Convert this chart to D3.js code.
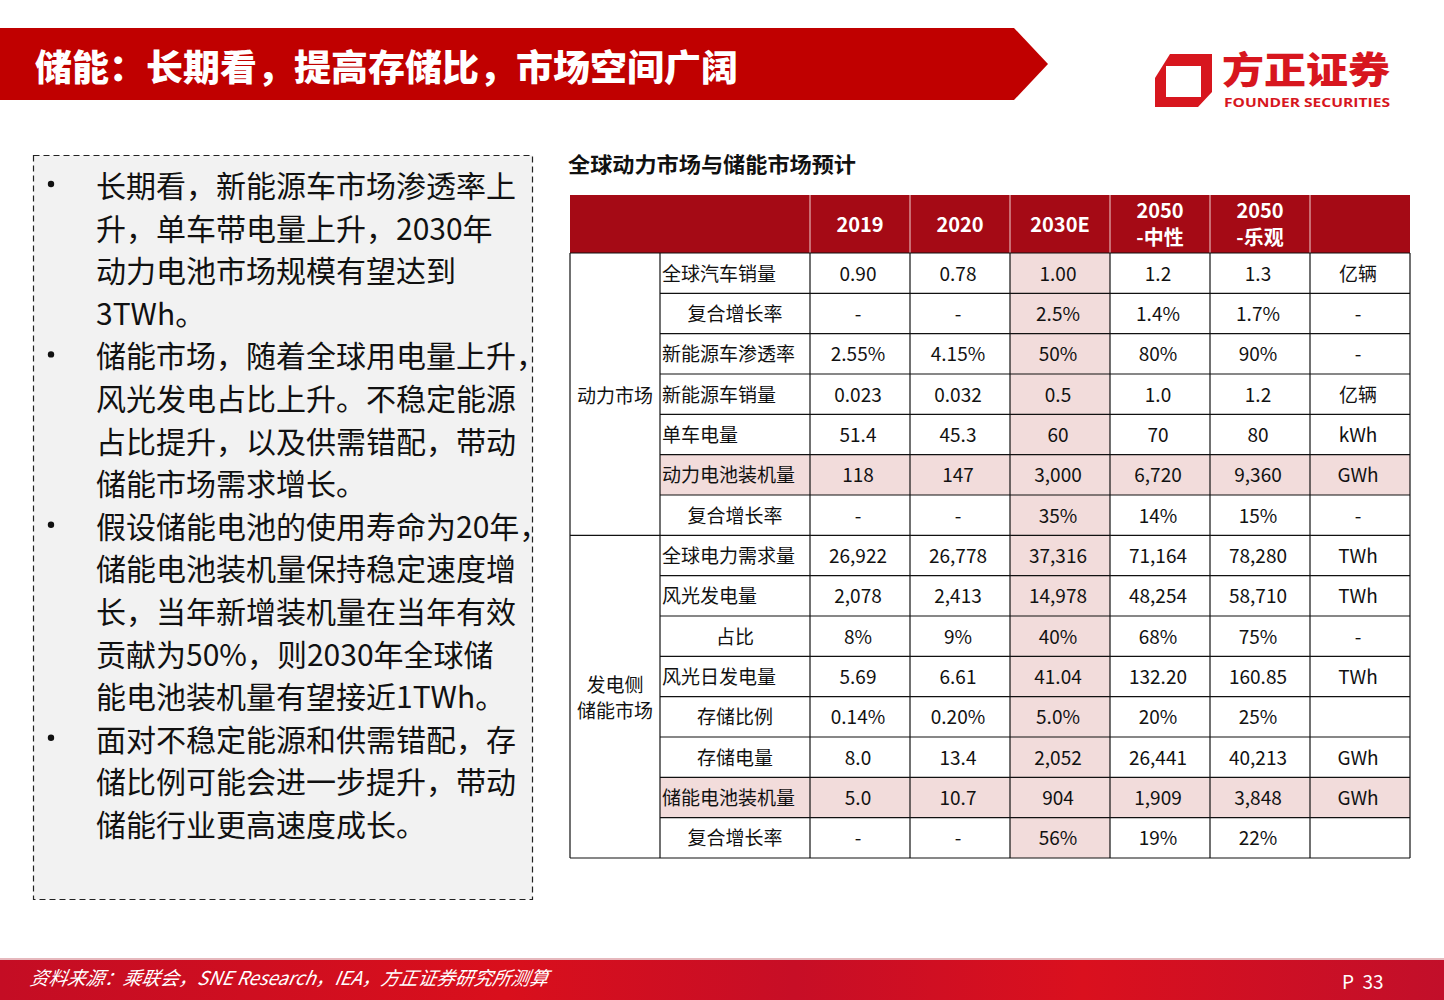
<!DOCTYPE html>
<html><head><meta charset="utf-8">
<script src="https://cdn.jsdelivr.net/npm/d3@7"></script>
<style>
html,body{margin:0;padding:0;background:#fff;}
svg{display:block;font-family:"Noto Sans CJK SC","Noto Sans",sans-serif;}
</style></head>
<body>
<svg id="c" width="1444" height="1000"></svg>
<script>
// ---------- data ----------
const title = "储能：长期看，提高存储比，市场空间广阔";
const tableTitle = "全球动力市场与储能市场预计";
const columns = ["2019", "2020", "2030E", "2050\n-中性", "2050\n-乐观", ""];
const groups = [{name: "动力市场", start: 0, end: 6}, {name: "发电侧\n储能市场", start: 7, end: 14}];
const rowLabels = ["全球汽车销量","复合增长率","新能源车渗透率","新能源车销量","单车电量","动力电池装机量","复合增长率",
                   "全球电力需求量","风光发电量","占比","风光日发电量","存储比例","存储电量","储能电池装机量","复合增长率"];
const labelCentered = [false,true,false,false,false,false,true,false,false,true,false,true,true,false,true];
const v2019  = ["0.90","-","2.55%","0.023","51.4","118","-","26,922","2,078","8%","5.69","0.14%","8.0","5.0","-"];
const v2020  = ["0.78","-","4.15%","0.032","45.3","147","-","26,778","2,413","9%","6.61","0.20%","13.4","10.7","-"];
const v2030E = ["1.00","2.5%","50%","0.5","60","3,000","35%","37,316","14,978","40%","41.04","5.0%","2,052","904","56%"];
const v2050N = ["1.2","1.4%","80%","1.0","70","6,720","14%","71,164","48,254","68%","132.20","20%","26,441","1,909","19%"];
const v2050O = ["1.3","1.7%","90%","1.2","80","9,360","15%","78,280","58,710","75%","160.85","25%","40,213","3,848","22%"];
const units  = ["亿辆","-","-","亿辆","kWh","GWh","-","TWh","TWh","-","TWh","","GWh","GWh",""];
const highlightRows = [5, 13];
const highlightCol = "2030E";
const bullets = [
  ["长期看，新能源车市场渗透率上","升，单车带电量上升，2030年","动力电池市场规模有望达到","3TWh。"],
  ["储能市场，随着全球用电量上升，","风光发电占比上升。不稳定能源","占比提升，以及供需错配，带动","储能市场需求增长。"],
  ["假设储能电池的使用寿命为20年，","储能电池装机量保持稳定速度增","长，当年新增装机量在当年有效","贡献为50%，则2030年全球储","能电池装机量有望接近1TWh。"],
  ["面对不稳定能源和供需错配，存","储比例可能会进一步提升，带动","储能行业更高速度成长。"]
];
const source = "资料来源：乘联会，SNE Research，IEA，方正证券研究所测算";
const pageNo = "P  33";

// ---------- drawing ----------
const svg = d3.select("#c");
const defs = svg.append("defs");
const RED = "#c00000";

// header banner
svg.append("path")
  .attr("d", "M0,28 L1014,28 L1048,64 L1014,100 L0,100 Z")
  .attr("fill", RED);
svg.append("text").text(title)
  .attr("x", 35).attr("y", 81)
  .attr("font-size", 36).attr("font-weight", 900).attr("fill", "#fff")
  .attr("textLength", 703).attr("lengthAdjust", "spacingAndGlyphs");

// logo
const LR = "#d7161e";
const logo = svg.append("g");
logo.append("path")
  .attr("d", "M1155,78 L1170,54 L1212,54 L1212,92 L1198,107 L1155,107 Z M1166,66 L1166,97 L1201,97 L1201,66 Z")
  .attr("fill", LR).attr("fill-rule", "evenodd");
logo.append("text").text("方正证券")
  .attr("x", 1222).attr("y", 84).attr("font-size", 37).attr("font-weight", 900).attr("fill", LR)
  .attr("textLength", 168).attr("lengthAdjust", "spacingAndGlyphs");
logo.append("text").text("FOUNDER SECURITIES")
  .attr("x", 1224).attr("y", 107).attr("font-size", 12.5).attr("font-weight", 700).attr("fill", LR)
  .attr("font-family", "'Open Sans','DejaVu Sans',sans-serif")
  .attr("textLength", 166).attr("lengthAdjust", "spacingAndGlyphs");

// left text box
svg.append("rect").attr("x", 33.5).attr("y", 155.5).attr("width", 499).attr("height", 744)
  .attr("fill", "#f2f2f2").attr("stroke", "#222").attr("stroke-width", 1.2).attr("stroke-dasharray", "6,4");
const lineY = d3.scaleLinear().domain([0, 15]).range([184, 823]);
let li = 0;
const tg = svg.append("g").attr("font-size", 30).attr("fill", "#111");
bullets.forEach(b => {
  tg.append("circle").attr("cx", 51).attr("cy", lineY(li)).attr("r", 3.2).attr("fill", "#111");
  b.forEach(line => {
    tg.append("text").text(line).attr("x", 96).attr("y", lineY(li)).attr("dominant-baseline", "central");
    li++;
  });
});

// table title
svg.append("text").text(tableTitle).attr("x", 568).attr("y", 172)
  .attr("font-size", 21).attr("font-weight", 700).attr("fill", "#111")
  .attr("textLength", 288).attr("lengthAdjust", "spacingAndGlyphs");

// table geometry
const tLeft = 570, tRight = 1410, gRight = 660, lRight = 810;
const headTop = 195, headBot = 253, tBot = 858;
const x = d3.scaleBand().domain(columns.map((c, i) => i)).range([lRight, tRight]);
const y = d3.scaleBand().domain(rowLabels.map((r, i) => i)).range([headBot, tBot]);
const colValues = [v2019, v2020, v2030E, v2050N, v2050O, units];

// header
svg.append("rect").attr("x", tLeft).attr("y", headTop).attr("width", tRight - tLeft).attr("height", headBot - headTop)
  .attr("fill", "#a50a15");
const hg = svg.append("g");
columns.forEach((c, i) => {
  const cx = x(i) + x.bandwidth() / 2;
  const lines = c.split("\n");
  lines.forEach((l, k) => {
    hg.append("text").text(l).attr("x", cx)
      .attr("y", (headTop + headBot) / 2 - 1 + (k - (lines.length - 1) / 2) * 27)
      .attr("text-anchor", "middle").attr("dominant-baseline", "central")
      .attr("font-size", 20).attr("font-weight", 700).attr("fill", "#fff");
  });
  hg.append("line").attr("x1", x(i)).attr("x2", x(i)).attr("y1", headTop).attr("y2", headBot)
    .attr("stroke", "#f0d0d0").attr("stroke-width", 1);
});

// highlights
const hiIdx = columns.indexOf(highlightCol);
const PINK = "#f2dcdb";
highlightRows.forEach(r => {
  svg.append("rect").attr("x", gRight).attr("y", y(r)).attr("width", tRight - gRight).attr("height", y.bandwidth()).attr("fill", PINK);
});
svg.append("rect").attr("x", x(hiIdx)).attr("y", headBot).attr("width", x.bandwidth()).attr("height", tBot - headBot).attr("fill", PINK);

// cells
const cg = svg.append("g").attr("font-size", 19).attr("fill", "#111");
rowLabels.forEach((lab, r) => {
  const cy = y(r) + y.bandwidth() / 2 - 1;
  cg.append("text").text(lab)
    .attr("x", labelCentered[r] ? (gRight + lRight) / 2 : gRight + 2)
    .attr("text-anchor", labelCentered[r] ? "middle" : "start")
    .attr("y", cy).attr("dominant-baseline", "central");
  colValues.forEach((vals, c) => {
    cg.append("text").text(vals[r]).attr("x", x(c) + x.bandwidth() / 2 - 2).attr("y", cy)
      .attr("text-anchor", "middle").attr("dominant-baseline", "central");
  });
});
groups.forEach(g => {
  const cy = (y(g.start) + y(g.end) + y.bandwidth()) / 2;
  const lines = g.name.split("\n");
  lines.forEach((l, k) => {
    cg.append("text").text(l).attr("x", (tLeft + gRight) / 2)
      .attr("y", cy + (k - (lines.length - 1) / 2) * 26)
      .attr("text-anchor", "middle").attr("dominant-baseline", "central");
  });
});

// grid lines
const lg = svg.append("g").attr("stroke", "#111").attr("stroke-width", 1.2);
rowLabels.forEach((lab, r) => {
  if (r === 0) return;
  const isGroupStart = groups.some(g => g.start === r);
  lg.append("line").attr("x1", isGroupStart ? tLeft : gRight).attr("x2", tRight)
    .attr("y1", y(r)).attr("y2", y(r));
});
lg.append("line").attr("x1", tLeft).attr("x2", tRight).attr("y1", headBot).attr("y2", headBot);
lg.append("line").attr("x1", tLeft).attr("x2", tRight).attr("y1", tBot).attr("y2", tBot);
[tLeft, gRight, lRight].concat(columns.map((c, i) => x(i)).slice(1)).concat([tRight]).forEach(xx => {
  lg.append("line").attr("x1", xx).attr("x2", xx).attr("y1", headBot).attr("y2", tBot);
});

// footer
const grad = defs.append("linearGradient").attr("id", "fg").attr("x1", 0).attr("x2", 1);
[["0%", "#c40d24"], ["35%", "#d90f1c"], ["55%", "#c70e26"], ["75%", "#da101e"], ["100%", "#c20f2a"]]
  .forEach(s => grad.append("stop").attr("offset", s[0]).attr("stop-color", s[1]));
svg.append("rect").attr("x", 0).attr("y", 958).attr("width", 1444).attr("height", 3).attr("fill", "#e6b8bd");
svg.append("rect").attr("x", 0).attr("y", 960).attr("width", 1444).attr("height", 40).attr("fill", "url(#fg)");
svg.append("text").text(source).attr("x", 30).attr("y", 985)
  .attr("font-size", 19).attr("font-style", "italic").attr("fill", "#fff")
  .attr("transform", "skewX(-10) translate(173,0)")
  .attr("textLength", 518).attr("lengthAdjust", "spacingAndGlyphs");
svg.append("text").text(pageNo).attr("x", 1342).attr("y", 989)
  .attr("font-size", 19).attr("fill", "#fff").attr("xml:space", "preserve").style("white-space", "pre");
</script>
</body></html>
